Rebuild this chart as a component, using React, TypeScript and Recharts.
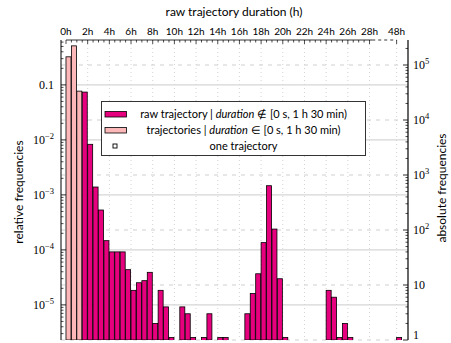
import { Bar, BarChart, CartesianGrid, ReferenceLine, XAxis, YAxis } from "recharts";

// trajectories per 30 min bin, starting at 0h; the last bin is the 48h one after the axis break
const binCounts: (number | null)[] = [
  141000, 223000, 33500, 32200, 3616, 605, 231, 64, 40, 40,
  40, 19, 8, 11, 12, 17, 2, 8, 4, 1,
  null, 4, 3, 1, null, 1, 3, null, 1, 1,
  null, null, null, 3, 7, 16, 59, 639, 104, 13,
  1, null, null, null, null, null, null, null, 8, 6,
  1, 2, 1, null, null, null, null, null, null, null,
  null, 1,
];
const SHORT_BINS = 3; // bins below 1 h 30 min

const tickPos = [0, 2, 4, 6, 8, 10, 12, 14, 16, 18, 20, 22, 24, 26, 28, 30.5];
const tickLabels = ["0h", "2h", "4h", "6h", "8h", "10h", "12h", "14h", "16h", "18h", "20h", "22h", "24h", "26h", "28h", "48h"];

const relDecades = [1e-5, 1e-4, 1e-3, 1e-2, 1e-1];
const relLabels = [["10", "−5"], ["10", "−4"], ["10", "−3"], ["10", "−2"], ["0.1", ""]];
const absDecades = [1, 10, 100, 1e3, 1e4, 1e5];
const absLabels = [["1", ""], ["10", ""], ["10", "2"], ["10", "3"], ["10", "4"], ["10", "5"]];

const MAGENTA = "#e6007e";
const LIGHT = "#fcb8b8";
const SANS = "Lato, 'Open Sans', sans-serif";
const SERIF = "'Liberation Serif', 'DejaVu Serif', serif";

const W = 451;
const H = 343;
const LEFT = 61;
const RIGHT_W = 43;
const TOP = 40;
const PLOT_R = W - RIGHT_W;

const TOTAL = binCounts.reduce<number>((s, c) => s + (c ?? 0), 0);
const ABS_MAX = 285000;
const REL_MIN = 1 / TOTAL;
const REL_MAX = ABS_MAX / TOTAL;

const data = binCounts.map((count, i) => ({ x: i * 0.5 + 0.25, count, short: i < SHORT_BINS }));

function logTicks(lo: number, hi: number) {
  const out: number[] = [];
  for (let e = Math.floor(Math.log10(lo)); e <= Math.ceil(Math.log10(hi)); e++) {
    for (let k = 1; k < 10; k++) {
      const v = k * Math.pow(10, e);
      if (v >= lo && v <= hi) out.push(v);
    }
  }
  return out;
}

const xTicks: number[] = [];
for (let h = 0; h <= 28; h += 0.5) xTicks.push(h);
xTicks.push(30.5);

function isDecade(v: number, list: number[]) {
  return list.findIndex((d) => Math.abs(d - v) / d < 1e-6);
}

function TopTick(props: any) {
  const { x, payload } = props;
  const i = tickPos.indexOf(payload.value);
  return (
    <g>
      <line x1={x} x2={x} y1={TOP} y2={TOP + (i >= 0 ? 4 : 2.5)} stroke="#000" strokeWidth={0.7} />
      {i >= 0 && (
        <text x={x} y={35} textAnchor="middle" fontSize={10} fontFamily={SANS} fill="#000">
          {tickLabels[i]}
        </text>
      )}
    </g>
  );
}

function LeftTick(props: any) {
  const { y, payload } = props;
  const i = isDecade(payload.value, relDecades);
  const major = i >= 0;
  return (
    <g>
      <line x1={LEFT} x2={LEFT + (major ? 5 : 2.5)} y1={y} y2={y} stroke="#000" strokeWidth={0.7} />
      {major && (
        <text x={LEFT - 7} y={y + 4} textAnchor="end" fontSize={12} fontFamily={SERIF} fill="#000">
          {relLabels[i][0]}
          {relLabels[i][1] && (
            <tspan dy={-5} fontSize={8.5}>
              {relLabels[i][1]}
            </tspan>
          )}
        </text>
      )}
    </g>
  );
}

function RightTick(props: any) {
  const { y, payload } = props;
  const i = isDecade(payload.value, absDecades);
  const major = i >= 0;
  return (
    <g>
      <line x1={PLOT_R - (major ? 5 : 2.5)} x2={PLOT_R} y1={y} y2={y} stroke="#000" strokeWidth={0.7} />
      {major && (
        <text x={PLOT_R + 5} y={Math.min(y + 4, H - 4)} textAnchor="start" fontSize={12} fontFamily={SERIF} fill="#000">
          {absLabels[i][0]}
          {absLabels[i][1] && (
            <tspan dy={-5} fontSize={8.5}>
              {absLabels[i][1]}
            </tspan>
          )}
        </text>
      )}
    </g>
  );
}

function HistBar(props: any) {
  const { x, y, width, height } = props;
  const p = props.payload ?? props;
  if (p.count == null) return <g />;
  const fill = p.short ? LIGHT : MAGENTA;
  if (p.count === 1) {
    return <rect x={x} y={y + height - 2.5} width={width} height={5} fill={fill} stroke="#000" strokeWidth={0.8} />;
  }
  return <rect x={x} y={y} width={width} height={height} fill={fill} stroke="#000" strokeWidth={0.8} />;
}

function LegendBox() {
  const cx = 243.5;
  return (
    <g fontFamily={SANS} fontSize={11} fill="#000">
      <rect x={101.5} y={101.5} width={264} height={54} fill="#fff" stroke="#333" strokeWidth={1} />
      <rect x={105} y={111.5} width={21.5} height={5.5} fill={MAGENTA} stroke="#000" strokeWidth={0.8} />
      <text x={cx} y={118} textAnchor="middle">
        raw trajectory | <tspan fontStyle="italic">duration</tspan> ∉ [0 s, 1 h 30 min)
      </text>
      <rect x={105} y={127.5} width={21.5} height={5.5} fill={LIGHT} stroke="#000" strokeWidth={0.8} />
      <text x={cx} y={134} textAnchor="middle">
        trajectories | <tspan fontStyle="italic">duration</tspan> ∈ [0 s, 1 h 30 min)
      </text>
      <rect x={113} y={144} width={4} height={4} fill="#fff" stroke="#000" strokeWidth={0.9} />
      <text x={cx} y={150} textAnchor="middle">
        one trajectory
      </text>
    </g>
  );
}

export default function App() {
  return (
    <div style={{ position: "relative", width: W, height: H }}>
      <style>{"body{margin:0}"}</style>
      <BarChart width={W} height={H} data={data} margin={{ top: 0, right: 0, bottom: 3, left: 0 }} barCategoryGap={0} barGap={0}>
        <CartesianGrid yAxisId="left" vertical={false} horizontalValues={relDecades} stroke="#d6d6d6" strokeWidth={1.3} />
        <CartesianGrid yAxisId="right" vertical={false} horizontalValues={absDecades} stroke="#cfcfcf" strokeDasharray="4 5" />
        <CartesianGrid yAxisId="left" horizontal={false} verticalValues={tickPos.slice(1)} stroke="#d4d4d4" strokeDasharray="1 3" />
        <XAxis
          dataKey="x"
          type="number"
          orientation="top"
          height={TOP}
          domain={[-0.46, 31.55]}
          allowDataOverflow
          ticks={xTicks}
          interval={0}
          tick={<TopTick />}
          tickLine={false}
          axisLine={false}
        />
        <YAxis
          yAxisId="left"
          orientation="left"
          width={LEFT}
          scale="log"
          type="number"
          domain={[REL_MIN, REL_MAX]}
          allowDataOverflow
          ticks={logTicks(REL_MIN, REL_MAX)}
          interval={0}
          tick={<LeftTick />}
          tickLine={false}
          axisLine={{ stroke: "#000", strokeWidth: 1 }}
        />
        <YAxis
          yAxisId="right"
          orientation="right"
          width={RIGHT_W}
          scale="log"
          type="number"
          domain={[1, ABS_MAX]}
          allowDataOverflow
          ticks={logTicks(1, ABS_MAX)}
          interval={0}
          tick={<RightTick />}
          tickLine={false}
          axisLine={{ stroke: "#000", strokeWidth: 1.2 }}
        />
        <ReferenceLine
          yAxisId="left"
          segment={[{ x: 0, y: REL_MAX }, { x: 28.25, y: REL_MAX }]}
          stroke="#000"
          strokeWidth={0.8}
          ifOverflow="visible"
        />
        <ReferenceLine
          yAxisId="left"
          segment={[{ x: 28.25, y: REL_MAX }, { x: 30.5, y: REL_MAX }]}
          stroke="#000"
          strokeWidth={0.8}
          strokeDasharray="3 3"
          ifOverflow="visible"
        />
        <Bar dataKey="count" yAxisId="right" shape={<HistBar />} isAnimationActive={false} />
      </BarChart>
      <svg width={W} height={H} style={{ position: "absolute", left: 0, top: 0, pointerEvents: "none" }}>
        <text x={234} y={16} textAnchor="middle" fontSize={12} fontFamily={SANS}>
          raw trajectory duration (h)
        </text>
        <text x={23} y={192} textAnchor="middle" fontSize={12} fontFamily={SANS} transform="rotate(-90 23 192)">
          relative frequencies
        </text>
        <text x={446} y={188} textAnchor="middle" fontSize={12} fontFamily={SANS} transform="rotate(-90 446 188)">
          absolute frequencies
        </text>
        <LegendBox />
      </svg>
    </div>
  );
}
